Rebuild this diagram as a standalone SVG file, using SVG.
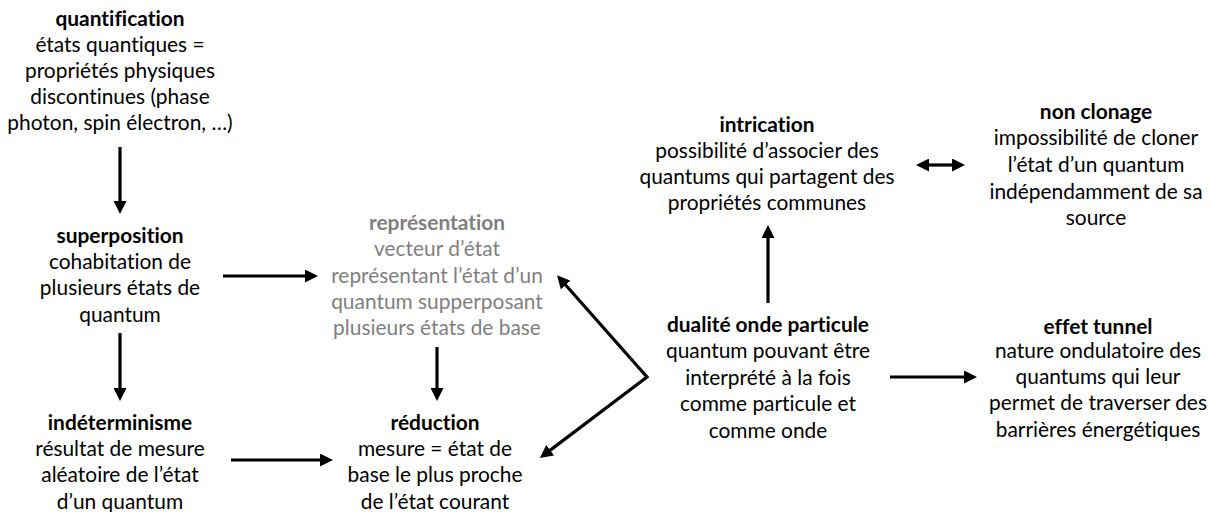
<svg xmlns="http://www.w3.org/2000/svg" width="1212" height="512" viewBox="0 0 1212 512">
<style>
text{font-family:Lato,"Carlito","Liberation Sans",sans-serif;font-size:20.9px;fill:#000;text-anchor:middle;font-variant-ligatures:none}
.t{font-weight:bold}
.g text{fill:#7f7f7f}
.c{fill:none;stroke:#000;stroke-width:3.2;stroke-linejoin:miter;stroke-miterlimit:10}
</style>
<defs>
<marker id="ah" markerUnits="userSpaceOnUse" markerWidth="13" markerHeight="13" viewBox="0 0 13 13" refX="4" refY="6.5" orient="auto-start-reverse">
<path d="M0,0 L13,6.5 L0,13 z" fill="#000"/>
</marker>
</defs>
<rect width="1212" height="512" fill="#fff"/>
<g id="connectors">
<path class="c" d="M120,147 L120,205" marker-end="url(#ah)"/>
<path class="c" d="M120,333 L120,392" marker-end="url(#ah)"/>
<path class="c" d="M223,276 L309,276" marker-end="url(#ah)"/>
<path class="c" d="M437,347 L437,392" marker-end="url(#ah)"/>
<path class="c" d="M231,460 L324,460" marker-end="url(#ah)"/>
<path class="c" d="M563,282 L647,377 L547,452.6" marker-start="url(#ah)" marker-end="url(#ah)"/>
<path class="c" d="M768,303 L768,234" marker-end="url(#ah)"/>
<path class="c" d="M925,165 L956,165" marker-start="url(#ah)" marker-end="url(#ah)"/>
<path class="c" d="M890,377 L968,377" marker-end="url(#ah)"/>
</g>
<g id="quantification">
<text x="120" y="26" class="t">quantification</text>
<text x="120" y="52">états quantiques =</text>
<text x="120" y="78">propriétés physiques</text>
<text x="120" y="104">discontinues (phase</text>
<text x="120" y="130">photon, spin électron, …)</text>
</g>
<g id="superposition">
<text x="120" y="243" class="t">superposition</text>
<text x="120" y="269">cohabitation de</text>
<text x="120" y="295">plusieurs états de</text>
<text x="120" y="322">quantum</text>
</g>
<g id="indeterminisme">
<text x="120" y="430" class="t">indéterminisme</text>
<text x="120" y="456">résultat de mesure</text>
<text x="120" y="482">aléatoire de l’état</text>
<text x="120" y="509">d’un quantum</text>
</g>
<g id="representation" class="g">
<text x="437" y="230" class="t">représentation</text>
<text x="437" y="256">vecteur d’état</text>
<text x="437" y="283">représentant l’état d’un</text>
<text x="437" y="309">quantum supperposant</text>
<text x="437" y="335">plusieurs états de base</text>
</g>
<g id="reduction">
<text x="435" y="430" class="t">réduction</text>
<text x="435" y="456">mesure = état de</text>
<text x="435" y="482">base le plus proche</text>
<text x="435" y="509">de l’état courant</text>
</g>
<g id="dualite">
<text x="768" y="332" class="t">dualité onde particule</text>
<text x="768" y="358">quantum pouvant être</text>
<text x="768" y="385">interprété à la fois</text>
<text x="768" y="411">comme particule et</text>
<text x="768" y="438">comme onde</text>
</g>
<g id="intrication">
<text x="767" y="132" class="t">intrication</text>
<text x="767" y="158">possibilité d’associer des</text>
<text x="767" y="184">quantums qui partagent des</text>
<text x="767" y="210">propriétés communes</text>
</g>
<g id="non-clonage">
<text x="1096" y="119" class="t">non clonage</text>
<text x="1096" y="145">impossibilité de cloner</text>
<text x="1096" y="172">l’état d’un quantum</text>
<text x="1096" y="199">indépendamment de sa</text>
<text x="1096" y="225">source</text>
</g>
<g id="effet-tunnel">
<text x="1098" y="334" class="t">effet tunnel</text>
<text x="1098" y="358">nature ondulatoire des</text>
<text x="1098" y="384">quantums qui leur</text>
<text x="1098" y="410">permet de traverser des</text>
<text x="1098" y="437">barrières énergétiques</text>
</g>
</svg>
